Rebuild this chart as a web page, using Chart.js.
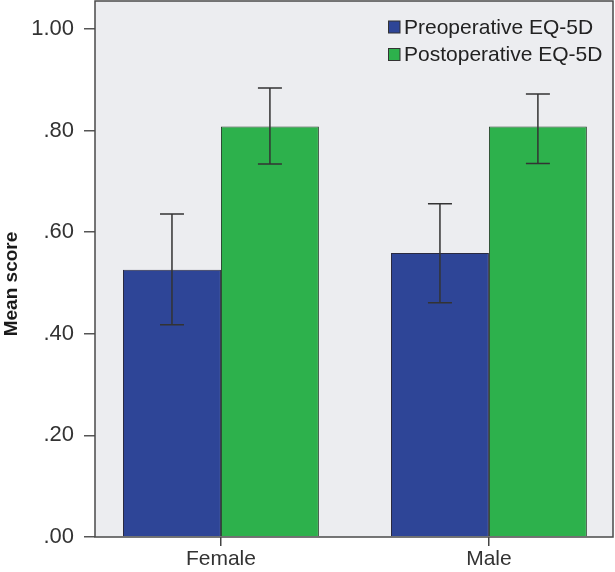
<!DOCTYPE html>
<html>
<head>
<meta charset="utf-8">
<script src="https://cdn.jsdelivr.net/npm/chart.js@4.4.1/dist/chart.umd.min.js"></script>
<style>
  body { margin: 0; background: #fff; }
  #wrap { width: 615px; height: 572px; }
</style>
</head>
<body>
<div id="wrap"><canvas id="chart" width="615" height="572"></canvas></div>
<script>
// values
const categories = ['Female', 'Male'];
const preMean = [0.526, 0.559];
const preLow = [0.418, 0.461];
const preHigh = [0.636, 0.656];
const postMean = [0.808, 0.808];
const postLow = [0.734, 0.735];
const postHigh = [0.884, 0.872];
const yTicks = [0, 0.2, 0.4, 0.6, 0.8, 1.0];

const seriesNames = ['Preoperative EQ-5D', 'Postoperative EQ-5D'];
const seriesColors = ['#2e4597', '#2db14c'];

function points(vals) {
    return vals.map((v, i) => ({ x: i, y: v }));
}

// plot background + frame
const frame = {
    id: 'frame',
    beforeDraw(chart) {
        const a = chart.chartArea, ctx = chart.ctx;
        ctx.save();
        ctx.fillStyle = '#ecedf0';
        ctx.fillRect(a.left, a.top, a.right - a.left, a.bottom - a.top);
        ctx.restore();
    },
    afterDraw(chart) {
        const a = chart.chartArea, ctx = chart.ctx;
        ctx.save();
        ctx.strokeStyle = '#4a4a4a';
        ctx.lineWidth = 1.5;
        ctx.strokeRect(a.left, a.top, a.right - a.left, a.bottom - a.top);

        // y axis title
        ctx.translate(12, 284);
        ctx.rotate(-Math.PI / 2);
        ctx.font = 'bold 19px "Liberation Sans"';
        ctx.fillStyle = '#1a1a1a';
        ctx.textAlign = 'center';
        ctx.textBaseline = 'middle';
        ctx.fillText('Mean score', 0, 0);
        ctx.restore();

        // legend in the top right corner
        ctx.save();
        ctx.font = '21px "Liberation Sans"';
        ctx.textBaseline = 'middle';
        chart.data.datasets.forEach((ds, i) => {
            const y = 27 + i * 27.5;
            ctx.fillStyle = ds.backgroundColor;
            ctx.fillRect(388.5, y - 6, 11.5, 12);
            ctx.strokeStyle = '#333';
            ctx.lineWidth = 1;
            ctx.strokeRect(388.5, y - 6, 11.5, 12);
            ctx.fillStyle = '#222';
            ctx.fillText(ds.label, 404, y + 1);
        });
        ctx.restore();
    }
};

// error bars
const errorBars = {
    id: 'errorBars',
    afterDatasetsDraw(chart) {
        const ctx = chart.ctx, yScale = chart.scales.y;
        ctx.save();
        ctx.strokeStyle = '#333';
        ctx.lineWidth = 1.5;
        chart.data.datasets.forEach((ds, i) => {
            const meta = chart.getDatasetMeta(i);
            meta.data.forEach((bar, j) => {
                const x = bar.x;
                const yl = yScale.getPixelForValue(ds.errLow[j]);
                const yh = yScale.getPixelForValue(ds.errHigh[j]);
                ctx.beginPath();
                ctx.moveTo(x, yl); ctx.lineTo(x, yh);
                ctx.moveTo(x - 12, yl); ctx.lineTo(x + 12, yl);
                ctx.moveTo(x - 12, yh); ctx.lineTo(x + 12, yh);
                ctx.stroke();
            });
        });
        ctx.restore();
    }
};

function noPadding(scale) {
    scale.paddingTop = 0;
    scale.paddingBottom = 0;
    scale.paddingLeft = 0;
    scale.paddingRight = 0;
}

new Chart(document.getElementById('chart'), {
    type: 'bar',
    data: {
        datasets: [{
            label: seriesNames[0],
            data: points(preMean),
            errLow: preLow,
            errHigh: preHigh,
            backgroundColor: seriesColors[0],
            borderColor: '#2a2a40',
            borderWidth: 1
        }, {
            label: seriesNames[1],
            data: points(postMean),
            errLow: postLow,
            errHigh: postHigh,
            backgroundColor: seriesColors[1],
            borderColor: '#24402a',
            borderWidth: 1
        }]
    },
    options: {
        responsive: false,
        animation: false,
        categoryPercentage: 0.731,
        barPercentage: 1.0,
        layout: { padding: { top: 1, right: 2, left: 0, bottom: 0 } },
        plugins: {
            legend: { display: false },
            tooltip: { enabled: false }
        },
        scales: {
            x: {
                type: 'linear',
                min: -0.47,
                max: 1.463,
                offset: false,
                bounds: 'data',
                afterBuildTicks: scale => {
                    scale.ticks = categories.map((c, i) => ({ value: i }));
                },
                afterFit: scale => { scale.height = 35; noPadding(scale); },
                grid: {
                    offset: false,
                    drawOnChartArea: false,
                    tickLength: 9,
                    color: '#444',
                    lineWidth: 1.5
                },
                border: { display: false },
                ticks: {
                    autoSkip: false,
                    maxRotation: 0,
                    padding: 1,
                    color: '#333',
                    font: { family: 'Liberation Sans', size: 21 },
                    callback: value => categories[value]
                }
            },
            y: {
                min: 0,
                max: 1.055,
                afterBuildTicks: scale => {
                    scale.ticks = yTicks.map(v => ({ value: v }));
                },
                afterFit: scale => { scale.width = 95; noPadding(scale); },
                grid: {
                    drawOnChartArea: false,
                    tickLength: 11,
                    color: '#555',
                    lineWidth: 1.5
                },
                border: { display: false },
                ticks: {
                    padding: 10,
                    color: '#333',
                    font: { family: 'Liberation Sans', size: 22 },
                    callback: value => value === 1 ? '1.00' : value.toFixed(2).replace(/^0/, '')
                }
            }
        }
    },
    plugins: [frame, errorBars]
});
</script>
</body>
</html>
